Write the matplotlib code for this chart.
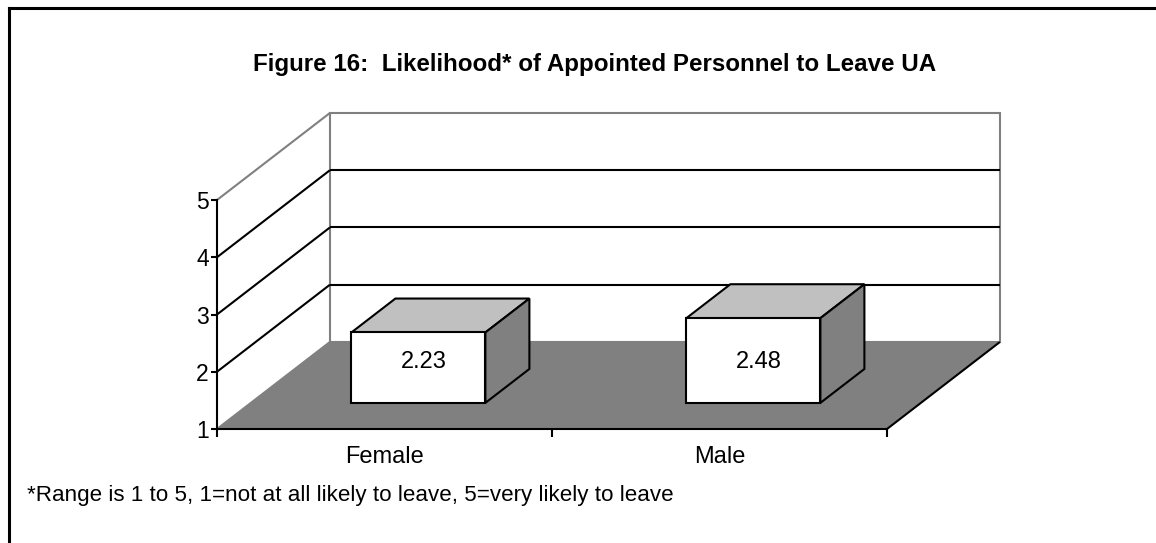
import matplotlib
matplotlib.use('Agg')
import matplotlib.pyplot as plt
from matplotlib.patches import Polygon

plt.rcParams['font.family'] = ['Liberation Sans', 'DejaVu Sans']

title = 'Figure 16:  Likelihood* of Appointed Personnel to Leave UA'
categories = ['Female', 'Male']
values = [2.23, 2.48]
value_labels = ['2.23', '2.48']
y_ticks = [1, 2, 3, 4, 5]
footnote = '*Range is 1 to 5, 1=not at all likely to leave, 5=very likely to leave'

W, H = 1156, 543
fig = plt.figure(figsize=(W / 100, H / 100), dpi=100)

# front plane: x 0..2 -> px 217..887, y 1..5 -> px 429..200
ax = fig.add_axes([217 / W, 1 - 429 / H, 670 / W, 229 / H])
ax.set_xlim(0, len(categories))
ax.set_ylim(1, 5)
ax.set_facecolor('none')

# oblique depth offset (in data units for depth = 1)
DX, DY = 0.337, 1.52
ymin, ymax = 1, 5
xmax = len(categories)


def proj(x, v, d):
    return (x + DX * d, v + DY * d)


def face(pts, fc, ec, lw=1.5, z=2):
    p = Polygon([proj(*q) for q in pts], closed=True, facecolor=fc,
                edgecolor=ec, linewidth=lw, zorder=z, clip_on=False,
                joinstyle='miter')
    ax.add_patch(p)


def seg(a, b, color, lw=1.5, z=3):
    pa, pb = proj(*a), proj(*b)
    ax.plot([pa[0], pb[0]], [pa[1], pb[1]], color=color, lw=lw,
            zorder=z, clip_on=False, solid_capstyle='butt')


# back wall
face([(0, ymin, 1), (xmax, ymin, 1), (xmax, ymax, 1), (0, ymax, 1)],
     'white', '#808080', lw=1.5, z=1)
# floor
face([(0, ymin, 0), (xmax, ymin, 0), (xmax, ymin, 1), (0, ymin, 1)],
     '#808080', 'none', lw=0, z=1.5)
seg((xmax, ymin, 0), (xmax, ymin, 1), 'black', z=2)
seg((0, ymin, 0), (0, ymin, 1), '#808080', z=2)
# left wall outline
seg((0, ymax, 0), (0, ymax, 1), '#808080', z=1.2)

# gridlines on walls
for t in y_ticks[1:-1]:
    seg((0, t, 0), (0, t, 1), 'black', z=1.3)
    seg((0, t, 1), (xmax, t, 1), 'black', z=1.3)

# bars
bw = 0.4
d0, d1 = 0.3, 0.69
for i, (v, lab) in enumerate(zip(values, value_labels)):
    c = i + 0.5
    x0, x1 = c - bw / 2, c + bw / 2
    b0 = ymin
    # top
    face([(x0, v, d0), (x1, v, d0), (x1, v, d1), (x0, v, d1)], '#C0C0C0', 'black', z=4)
    # side
    face([(x1, b0, d0), (x1, b0, d1), (x1, v, d1), (x1, v, d0)], '#808080', 'black', z=4)
    # front
    face([(x0, b0, d0), (x1, b0, d0), (x1, v, d0), (x0, v, d0)], 'white', 'black', z=5)
    tx, ty = proj(c, b0 + 0.72, d0)
    ax.text(tx + 0.015, ty, lab, ha='center', va='center', fontsize=17, zorder=6)

# axes
for s in ['top', 'right']:
    ax.spines[s].set_visible(False)
ax.spines['left'].set_linewidth(1.5)
ax.spines['bottom'].set_linewidth(1.5)
ax.spines['left'].set_zorder(6)
ax.spines['bottom'].set_zorder(6)
ax.set_yticks(y_ticks)
ax.set_yticklabels([str(t) for t in y_ticks], fontsize=16.5)
ax.set_xticks(range(len(categories) + 1))
ax.set_xticklabels([])
ax.set_xticks([i + 0.5 for i in range(len(categories))], minor=True)
ax.set_xticklabels(categories, minor=True, fontsize=17)
ax.tick_params(axis='y', length=4.5, width=1.5, pad=1.5)
ax.tick_params(axis='x', which='major', length=6, width=1.5)
ax.tick_params(axis='x', which='minor', length=0, pad=12)

fig.text(595 / W, 1 - 64 / H, title, ha='center', va='center',
         fontsize=17.4, fontweight='bold')
fig.text(27 / W, 1 - 496 / H, footnote, ha='left', va='center', fontsize=16.1)

# outer frame (left and top edges)
fig.add_artist(plt.Line2D([9 / W, 9 / W], [0, 1 - 8 / H], color='black', lw=2.2,
                          transform=fig.transFigure))
fig.add_artist(plt.Line2D([9 / W, 1], [1 - 8 / H, 1 - 8 / H], color='black', lw=2.2,
                          transform=fig.transFigure))

fig.savefig('out.png', dpi=100)
